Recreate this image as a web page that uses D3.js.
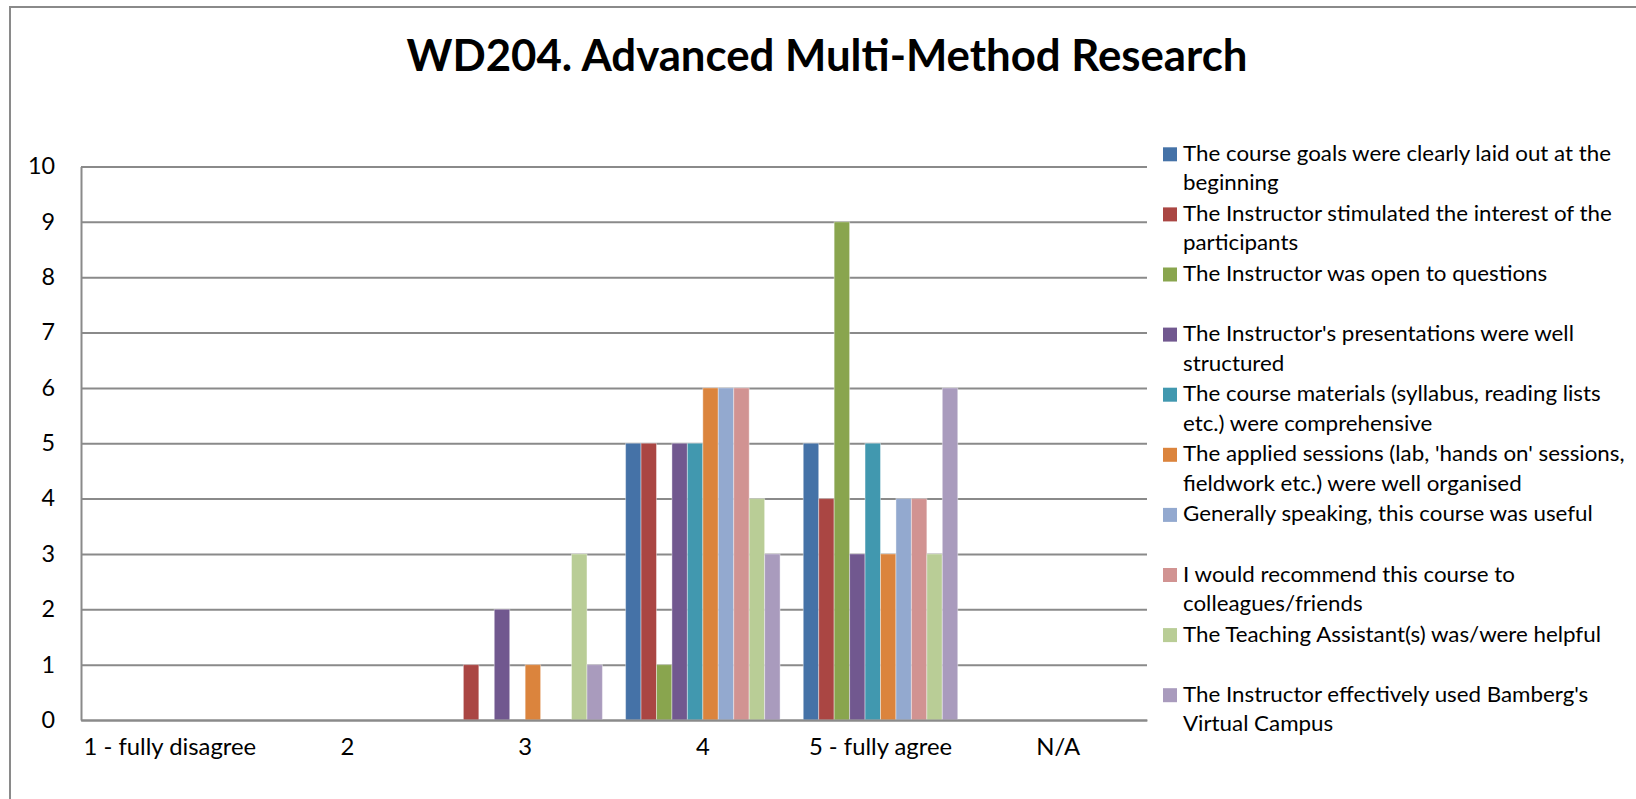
<!DOCTYPE html>
<html>
<head>
<meta charset="utf-8">
<script src="https://cdn.jsdelivr.net/npm/d3@7/dist/d3.min.js"></script>
<style>
body { margin: 0; background: #fff; }
text { font-family: Lato, "Open Sans", sans-serif; fill: #000; }
</style>
</head>
<body>
<script>
// answer categories on the x axis
const categories = ["1 - fully disagree", "2", "3", "4", "5 - fully agree", "N/A"]

// series (one per survey question), legend text already wrapped like the original
const legendLines = [
  ["The course goals were clearly laid out at the", "beginning"],
  ["The Instructor stimulated the interest of the", "participants"],
  ["The Instructor was open to questions"],
  ["The Instructor's presentations were well", "structured"],
  ["The course materials (syllabus, reading lists", "etc.) were comprehensive"],
  ["The applied sessions (lab, 'hands on' sessions,", "fieldwork etc.) were well organised"],
  ["Generally speaking, this course was useful"],
  ["I would recommend this course to", "colleagues/friends"],
  ["The Teaching Assistant(s) was/were helpful"],
  ["The Instructor effectively used Bamberg's", "Virtual Campus"]
]
const colors = ["#4572A7", "#AA4643", "#89A54E", "#71588F", "#4198AF",
                "#DB843D", "#93A9CF", "#D19392", "#B9CD96", "#A99BBD"]

// counts per category, one array per question
const goals        = [0, 0, 0, 5, 5, 0]
const stimulated   = [0, 0, 1, 5, 4, 0]
const openQuest    = [0, 0, 0, 1, 9, 0]
const presentation = [0, 0, 2, 5, 3, 0]
const materials    = [0, 0, 0, 5, 5, 0]
const applied      = [0, 0, 1, 6, 3, 0]
const useful       = [0, 0, 0, 6, 4, 0]
const recommend    = [0, 0, 0, 6, 4, 0]
const assistant    = [0, 0, 3, 4, 3, 0]
const virtualCamp  = [0, 0, 1, 3, 6, 0]
const series = [goals, stimulated, openQuest, presentation, materials,
                applied, useful, recommend, assistant, virtualCamp]

const yTicks = [0, 1, 2, 3, 4, 5, 6, 7, 8, 9, 10]

const W = 1636, H = 799
const plotL = 81, plotR = 1147, plotT = 166.5, plotB = 720
const grid = "#8a8a8a"

const svg = d3.select("body").append("svg").attr("width", W).attr("height", H)

// chart border (right and bottom run off the page like the original)
svg.append("rect").attr("x", 10).attr("y", 7).attr("width", 1700).attr("height", 900)
  .attr("fill", "none").attr("stroke", grid).attr("stroke-width", 2)

const title = svg.append("text").attr("x", 827).attr("y", 71).attr("text-anchor", "middle")
  .style("font-size", "43px").style("font-weight", "bold")
  .text("WD204. Advanced Multi-Method Research")

const x = d3.scaleBand().domain(categories).range([plotL, plotR])
  .paddingInner(1.5 / 11.5).paddingOuter(0.75 / 11.5)
const xs = d3.scaleBand().domain(d3.range(series.length)).range([0, x.bandwidth()])
const y = d3.scaleLinear().domain([0, 10]).range([plotB, plotT])

// y axis + gridlines
const yAxis = svg.append("g").attr("transform", "translate(" + plotL + ",0)")
  .call(d3.axisLeft(y).tickValues(yTicks).tickSizeInner(-(plotR - plotL)).tickSizeOuter(0).tickPadding(26))
yAxis.selectAll("line").attr("stroke", grid).attr("stroke-width", 2)
yAxis.select(".domain").attr("stroke", grid).attr("stroke-width", 2)
yAxis.selectAll("text").style("font-size", "23px").style("font-family", "Lato, sans-serif")

// bars
svg.append("g").selectAll("g").data(series).enter().append("g")
  .attr("fill", (d, i) => colors[i])
  .selectAll("rect").data((d, i) => d.map((v, c) => ({ v: v, c: c, s: i })).filter(e => e.v > 0)).enter()
  .append("rect")
  .attr("x", d => x(categories[d.c]) + xs(d.s))
  .attr("width", xs.bandwidth())
  .attr("y", d => y(d.v))
  .attr("height", d => y(0) - y(d.v))
  .attr("stroke", "#fff").attr("stroke-opacity", 0.4).attr("stroke-width", 1)

// x axis
const xAxis = svg.append("g").attr("transform", "translate(0," + plotB + ")")
  .call(d3.axisBottom(x).tickSize(0).tickPadding(18))
xAxis.select(".domain").attr("stroke", grid).attr("stroke-width", 2)
xAxis.selectAll("text").style("font-size", "23.5px").style("font-family", "Lato, sans-serif")

// legend
const legend = svg.append("g").attr("transform", "translate(1163,147.3)")
const item = legend.selectAll("g").data(legendLines).enter().append("g")
  .attr("transform", (d, i) => "translate(0," + (i * 60.1) + ")")
item.append("rect").attr("width", 14).attr("height", 14).attr("fill", (d, i) => colors[i])
item.selectAll("text").data(d => d).enter().append("text")
  .attr("x", 20).attr("y", (d, j) => 13.5 + j * 29.5)
  .style("font-size", "22px")
  .text(d => d)

// Calibri is narrower than Lato: squeeze text to the original widths
const k = 428 / legend.select("text").node().getComputedTextLength()
const squeeze = sel => sel.each(function () {
  const w = this.getComputedTextLength()
  d3.select(this).attr("textLength", w * k).attr("lengthAdjust", "spacingAndGlyphs")
})
squeeze(legend.selectAll("text"))
squeeze(xAxis.selectAll("text"))
squeeze(yAxis.selectAll("text"))
title.attr("textLength", 841).attr("lengthAdjust", "spacingAndGlyphs")
</script>
</body>
</html>
